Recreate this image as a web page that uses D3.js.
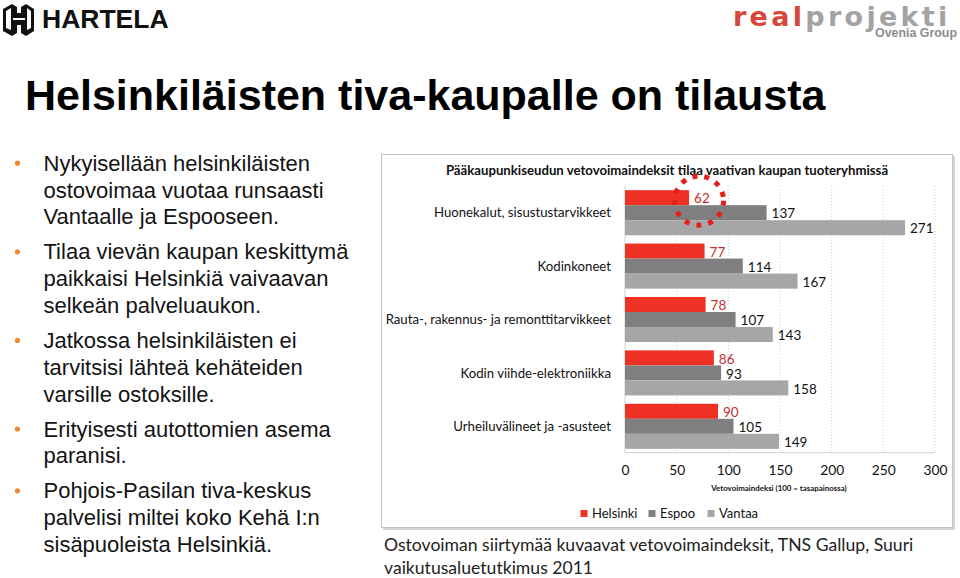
<!DOCTYPE html>
<html>
<head>
<meta charset="utf-8">
<script src="https://cdn.jsdelivr.net/npm/d3@7"></script>
<style>
  body { margin: 0; background: #fff; }
  svg { display: block; }
</style>
</head>
<body>
<svg id="slide" width="960" height="578"></svg>
<script>
'use strict';

// chart data
var categories = [
  'Huonekalut, sisustustarvikkeet',
  'Kodinkoneet',
  'Rauta-, rakennus- ja remonttitarvikkeet',
  'Kodin viihde-elektroniikka',
  'Urheiluvälineet ja -asusteet'
];
var seriesNames = ['Helsinki', 'Espoo', 'Vantaa'];
var helsinki = [62, 77, 78, 86, 90];
var espoo = [137, 114, 107, 93, 105];
var vantaa = [271, 167, 143, 158, 149];
var xTicks = [0, 50, 100, 150, 200, 250, 300];

var chartTitle = 'Pääkaupunkiseudun vetovoimaindeksit tilaa vaativan kaupan tuoteryhmissä';
var axisTitle = 'Vetovoimaindeksi (100 = tasapainossa)';
var slideTitle = 'Helsinkiläisten tiva-kaupalle on tilausta';
var bullets = [
  ['Nykyisellään helsinkiläisten', 'ostovoimaa vuotaa runsaasti', 'Vantaalle ja Espooseen.'],
  ['Tilaa vievän kaupan keskittymä', 'paikkaisi Helsinkiä vaivaavan', 'selkeän palveluaukon.'],
  ['Jatkossa helsinkiläisten ei', 'tarvitsisi lähteä kehäteiden', 'varsille ostoksille.'],
  ['Erityisesti autottomien asema', 'paranisi.'],
  ['Pohjois-Pasilan tiva-keskus', 'palvelisi miltei koko Kehä I:n', 'sisäpuoleista Helsinkiä.']
];
var caption = ['Ostovoiman siirtymää kuvaavat vetovoimaindeksit, TNS Gallup, Suuri', 'vaikutusaluetutkimus 2011'];

var colors = { Helsinki: '#ee3124', Espoo: '#7f7f7f', Vantaa: '#a6a6a8' };
var valueByName = { Helsinki: helsinki, Espoo: espoo, Vantaa: vantaa };

var svg = d3.select('#slide');
var chartFont = 'Lato, "Open Sans", sans-serif';
var slideFont = '"Liberation Sans", Arial, sans-serif';

// logos
var hartela = svg.append('g').attr('class', 'hartela');
hartela.append('path')
  .attr('d', 'M3,9 L12,4 L17,7 L17,13 L21,13 L21,7 L26,4 L34,9 L34,31 L26,36 L21,33 L21,25 L17,25 L17,33 L12,36 L3,31 Z')
  .attr('fill', '#111');
hartela.append('path')
  .attr('d', 'M6,11 L11,8 L11,30 L6,28 Z M27,8 L31,11 L31,28 L27,30 Z M13,18 L25,18 L25,20 L13,20 Z')
  .attr('fill', '#fff');
hartela.append('text')
  .attr('x', 42).attr('y', 27.5)
  .attr('font-family', slideFont).attr('font-weight', 'bold').attr('font-size', 26.5)
  .attr('fill', '#111')
  .text('HARTELA');

var rp = svg.append('text')
  .attr('x', 733).attr('y', 25.5)
  .attr('font-family', '"DejaVu Sans", sans-serif').attr('font-weight', 'bold')
  .attr('font-size', 27)
  .attr('letter-spacing', 3.3);
rp.append('tspan').attr('fill', '#d8463b').text('real');
rp.append('tspan').attr('fill', '#a3a3a3').text('projekti');
svg.append('text')
  .attr('x', 957).attr('y', 36.5)
  .attr('text-anchor', 'end')
  .attr('font-family', slideFont).attr('font-weight', 'bold').attr('font-size', 12.4)
  .attr('fill', '#8c8c8c')
  .text('Ovenia Group');

// slide title
svg.append('text')
  .attr('x', 25).attr('y', 110)
  .attr('font-family', slideFont).attr('font-weight', 'bold').attr('font-size', 43)
  .attr('fill', '#000')
  .text(slideTitle);

// bullet list
var lineH = 26.8, bulletGap = 35;
var by = 170.7;
bullets.forEach(function (lines, i) {
  if (i > 0) by += bulletGap - lineH;
  svg.append('circle')
    .attr('cx', 17.5).attr('cy', by - 7.5).attr('r', 2.6)
    .attr('fill', '#ef8a2e');
  lines.forEach(function (line) {
    svg.append('text')
      .attr('x', 43.5).attr('y', by)
      .attr('font-family', slideFont).attr('font-size', 22)
      .attr('fill', '#141414')
      .text(line);
    by += lineH;
  });
});

// chart frame
svg.append('rect')
  .attr('x', 383).attr('y', 156).attr('width', 572).attr('height', 374)
  .attr('fill', '#d4d4d4');
svg.append('rect')
  .attr('x', 381.5).attr('y', 154.5).attr('width', 571).attr('height', 373)
  .attr('fill', '#fff').attr('stroke', '#c4c4c4');

svg.append('text')
  .attr('x', 667).attr('y', 175)
  .attr('text-anchor', 'middle')
  .attr('font-family', chartFont).attr('font-weight', 'bold').attr('font-size', 13.2)
  .attr('fill', '#111')
  .text(chartTitle);

// scales
var x = d3.scaleLinear().domain([0, 300]).range([625, 935]);
var y = d3.scaleBand().domain(categories).range([186, 453])
  .paddingInner(0.156).paddingOuter(0.078);
var ySub = d3.scaleBand().domain(seriesNames).range([0, y.bandwidth()]);

// grid
svg.append('g').attr('class', 'grid')
  .selectAll('line')
  .data(xTicks.slice(1))
  .enter().append('line')
  .attr('x1', function (d) { return x(d); })
  .attr('x2', function (d) { return x(d); })
  .attr('y1', 186).attr('y2', 453)
  .attr('stroke', '#d0d0d0').attr('stroke-dasharray', '1,2');

svg.append('line')
  .attr('x1', x(0)).attr('x2', x(0)).attr('y1', 186).attr('y2', 453)
  .attr('stroke', '#d0d0d0');
svg.append('line')
  .attr('x1', x(0)).attr('x2', x(300)).attr('y1', 452.7).attr('y2', 452.7)
  .attr('stroke', '#d0d0d0');

// bars
var rows = [];
categories.forEach(function (c, i) {
  seriesNames.forEach(function (s) {
    rows.push({ category: c, series: s, value: valueByName[s][i] });
  });
});

var bars = svg.append('g').attr('class', 'bars');
bars.selectAll('rect')
  .data(rows)
  .enter().append('rect')
  .attr('x', x(0))
  .attr('y', function (d) { return y(d.category) + ySub(d.series); })
  .attr('width', function (d) { return x(d.value) - x(0); })
  .attr('height', ySub.bandwidth())
  .attr('fill', function (d) { return colors[d.series]; });

bars.selectAll('text')
  .data(rows)
  .enter().append('text')
  .attr('x', function (d) { return x(d.value) + 5; })
  .attr('y', function (d) { return y(d.category) + ySub(d.series) + ySub.bandwidth() / 2 + 1; })
  .attr('dy', '0.35em')
  .attr('font-family', chartFont).attr('font-size', 13.5)
  .attr('fill', function (d) { return d.series === 'Helsinki' ? '#c4302f' : '#111'; })
  .text(function (d) { return d.value; });

// category labels
svg.append('g').attr('class', 'cats')
  .selectAll('text')
  .data(categories)
  .enter().append('text')
  .attr('x', 611)
  .attr('y', function (d) { return y(d) + y.bandwidth() / 2; })
  .attr('dy', '0.35em')
  .attr('text-anchor', 'end')
  .attr('font-family', chartFont).attr('font-size', 13.2)
  .attr('fill', '#111')
  .text(function (d) { return d; });

// x axis labels
var xAxis = d3.axisBottom(x).tickValues(xTicks).tickSize(0).tickPadding(12);
var axisG = svg.append('g')
  .attr('transform', 'translate(0,453)')
  .call(xAxis);
axisG.select('.domain').remove();
axisG.selectAll('text')
  .attr('font-family', chartFont).attr('font-size', 13.8).attr('fill', '#111');

svg.append('text')
  .attr('x', 779).attr('y', 491)
  .attr('text-anchor', 'middle')
  .attr('font-family', chartFont).attr('font-weight', 'bold').attr('font-size', 7.9)
  .attr('fill', '#111')
  .text(axisTitle);

// red highlight around Helsinki value
svg.append('circle')
  .attr('cx', x(helsinki[0]) + 10)
  .attr('cy', y(categories[0]) + ySub('Helsinki') + ySub.bandwidth() / 2 + 3)
  .attr('r', 24.5)
  .attr('fill', 'none')
  .attr('stroke', '#e41f1b').attr('stroke-width', 5)
  .attr('stroke-dasharray', '5,7');

// legend
var legendX = [580.5, 648.5, 707.5];
var legend = svg.append('g').attr('class', 'legend')
  .selectAll('g')
  .data(seriesNames)
  .enter().append('g')
  .attr('transform', function (d, i) { return 'translate(' + legendX[i] + ',510)'; });
legend.append('rect')
  .attr('width', 7).attr('height', 7)
  .attr('fill', function (d) { return colors[d]; });
legend.append('text')
  .attr('x', 11.5).attr('y', 3.5).attr('dy', '0.35em')
  .attr('font-family', chartFont).attr('font-size', 13)
  .attr('fill', '#111')
  .text(function (d) { return d; });

// source caption
caption.forEach(function (line, i) {
  svg.append('text')
    .attr('x', 384).attr('y', 551 + i * 22.5)
    .attr('font-family', chartFont).attr('font-size', 17.6)
    .attr('fill', '#222')
    .text(line);
});
</script>
</body>
</html>
